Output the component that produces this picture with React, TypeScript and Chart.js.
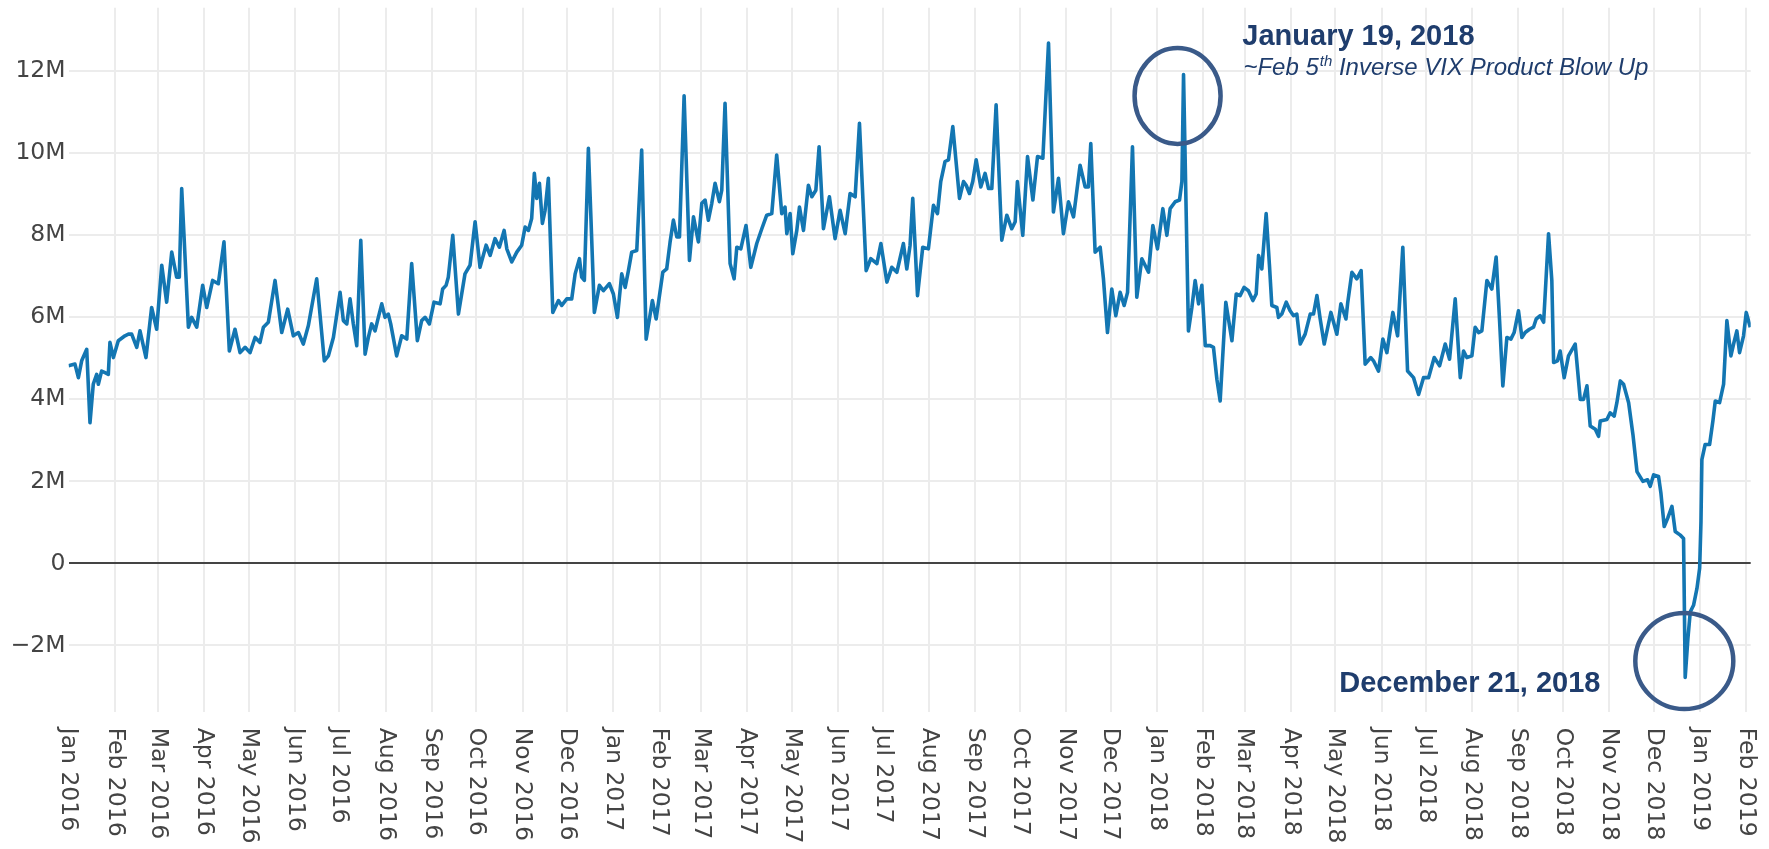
import React, { useEffect, useRef } from 'react';
import { Chart, registerables } from 'chart.js';

Chart.register(...registerables);

// Day index counted from Jan 1, 2016
const pointDays: number[] = [
  0, 4.3, 6.6, 8.8, 12.2, 14.4, 16.6, 18.9, 20.0, 22.2, 24.5, 26.7, 27.8, 30.1, 33.4, 37.9, 40.2, 42.4, 45.8, 48.0,
  52.0, 55.8, 59.2, 62.6, 65.9, 69.3, 72.6, 74.4, 76.0, 77.6, 80.5, 82.7, 86.1, 90.1, 92.8, 96.8, 100.6, 104.4, 108.0, 111.8,
  115.2, 118.6, 121.9, 125.3, 128.6, 130.9, 134.2, 138.7, 143.2, 147.2, 151.0, 154.4, 157.7, 161.1, 166.7, 171.8, 174.5, 177.9,
  182.4, 184.6, 186.9, 189.1, 191.3, 193.6, 196.3, 199.2, 201.4, 203.6, 205.9, 208.1, 210.4, 212.6, 214.8, 216.4, 220.4, 223.8,
  227.2, 230.5, 234.3, 237.2, 239.5, 242.4, 245.5, 249.6, 251.3, 253.6, 255.1, 258.1, 261.9, 266.3, 269.7, 273.1, 276.4, 280.5,
  283.2, 286.5, 289.4, 292.6, 294.4, 297.7, 301.1, 304.4, 306.7, 308.9, 311.1, 312.9, 314.5, 316.3, 318.3, 320.1, 322.3, 325.3,
  329.1, 331.3, 334.7, 338.0, 340.3, 343.2, 344.7, 346.5, 349.2, 350.8, 353.2, 356.6, 359.3, 363.3, 366.0, 368.7,
  371.6, 373.9, 376.1, 378.3, 381.7, 385.0, 388.0, 390.2, 392.2, 394.7, 399.2, 401.8, 404.1, 406.3, 408.6, 410.4, 413.5, 417.1,
  419.8, 423.1, 425.4, 427.6, 429.8, 432.1, 434.3, 437.2, 438.8, 441.0, 444.4, 447.1, 448.9, 451.6, 455.1, 458.3, 462.3, 465.7,
  469.0, 472.4, 475.7, 479.1, 481.3, 482.5, 484.7, 486.5, 489.2, 491.0, 493.7, 497.0, 499.3, 502.0, 504.2, 507.1, 511.1, 514.9,
  518.3, 521.7, 525.0, 528.4, 531.3, 535.8, 538.9, 543.0, 545.7, 549.7, 553.0, 556.4,
  560.8, 563.1, 565.3, 567.1, 570.3, 573.8, 577.6, 581.0, 583.7, 585.9, 588.8, 591.1, 594.0, 598.5, 601.2, 603.0, 605.2, 607.4,
  609.7, 612.8, 615.7, 618.0, 620.2, 623.1, 626.9, 630.3, 633.6, 635.9, 637.4, 641.0, 644.2, 647.8, 650.9, 654.5, 658.3, 661.6,
  665.0, 668.3, 671.7, 675.1, 679.5, 682.9, 685.1, 686.7, 689.6, 693.0, 695.2, 697.9, 700.8, 703.5, 706.4, 709.1, 711.4, 714.7,
  717.6, 721.0, 725.5, 728.4, 731.5, 735.1, 737.8, 740.0, 743.4, 746.3, 747.9, 749.0, 752.3,
  754.6, 756.8, 759.1, 761.3, 763.6, 766.9, 769.1, 771.4, 773.6, 777.4, 781.5, 784.4, 787.0, 789.7, 792.6, 795.6, 797.8, 799.4,
  801.6, 804.5, 806.8, 808.3, 811.7, 812.8, 815.0, 818.0, 820.6, 822.9, 825.1, 827.4, 830.7, 834.1, 836.3, 838.6, 840.8, 843.5,
  848.0, 852.0, 854.7, 858.1, 859.2, 862.1, 865.4, 868.3, 871.0, 874.8, 876.6, 880.0, 882.9, 885.6, 889.6, 892.8, 896.3, 899.5,
  903.5, 906.9, 910.2, 913.6, 917.4, 921.0, 924.8, 927.7, 931.5,
  934.9, 937.1, 939.3, 942.7, 944.9, 947.2, 949.4, 952.8, 956.1, 959.0, 961.3, 963.5, 966.2, 968.9, 971.1, 974.0, 976.3, 978.5,
  981.4, 984.1, 985.9, 988.6, 990.9, 994.2, 996.4, 997.6, 1000.2, 1002.0, 1004.7, 1007.6, 1012.1, 1015.5, 1017.7, 1020.0, 1022.2,
  1025.6, 1027.8, 1028.9, 1033.4, 1035.6, 1038.3, 1040.1, 1042.4, 1044.6, 1048.0, 1050.9, 1053.6, 1057.6, 1060.7, 1062.5, 1064.8,
  1068.1, 1069.7, 1071.9, 1074.2, 1077.1, 1079.3, 1082.7, 1084.9, 1086.0, 1087.8, 1089.4, 1091.6, 1093.9, 1095.7, 1096.6, 1097.2,
  1099.4, 1102.4, 1104.6, 1106.2, 1109.1, 1111.8, 1114.0, 1116.7, 1118.5, 1120.7, 1122.5, 1125.2, 1127.0, 1129.7,
];

// Values in millions
const pointValues: number[] = [
  4.82, 4.86, 4.53, 4.94, 5.22, 3.43, 4.37, 4.61, 4.37, 4.69, 4.65, 4.61, 5.39, 5.02, 5.43, 5.55, 5.59, 5.59, 5.27, 5.67,
  5.02, 6.24, 5.71, 7.27, 6.37, 7.59, 6.98, 6.98, 9.14, 7.96, 5.76, 6.0, 5.76, 6.78, 6.24, 6.9, 6.82, 7.84, 5.18, 5.71,
  5.14, 5.27, 5.14, 5.51, 5.39, 5.76, 5.88, 6.9, 5.63, 6.2, 5.55, 5.63, 5.35, 5.8, 6.94, 4.94, 5.06, 5.51,
  6.61, 5.92, 5.84, 6.45, 5.84, 5.31, 7.88, 5.10, 5.51, 5.84, 5.67, 6.0, 6.33, 6.0, 6.08, 5.84, 5.06, 5.55,
  5.47, 7.31, 5.43, 5.92, 6.0, 5.84, 6.37, 6.33, 6.69, 6.78, 6.98, 8.0, 6.08, 7.06, 7.27, 8.33, 7.22, 7.76,
  7.51, 7.92, 7.71, 8.12, 7.67, 7.35, 7.59, 7.76, 8.2, 8.12, 8.41, 9.51, 8.90, 9.27, 8.29, 8.61, 9.39, 6.12,
  6.41, 6.29, 6.45, 6.45, 7.06, 7.43, 6.98, 6.9, 10.12, 8.53, 6.12, 6.78, 6.65, 6.82, 6.57, 6.0,
  7.06, 6.73, 7.14, 7.59, 7.63, 10.08, 5.47, 5.96, 6.41, 5.96, 7.10, 7.18, 7.84, 8.37, 7.96, 7.96, 11.40, 7.39,
  8.45, 7.84, 8.78, 8.86, 8.37, 8.78, 9.27, 8.82, 9.10, 11.22, 7.31, 6.94, 7.71, 7.67, 8.24, 7.22, 7.80, 8.16,
  8.49, 8.53, 9.96, 8.53, 8.69, 8.04, 8.53, 7.55, 8.12, 8.69, 8.12, 9.22, 8.94, 9.10, 10.16, 8.16, 8.94, 7.92,
  8.61, 8.04, 9.02, 8.94, 10.73, 7.14, 7.43, 7.31, 7.80, 6.86, 7.22, 7.10,
  7.80, 7.18, 7.76, 8.90, 6.53, 7.71, 7.67, 8.73, 8.53, 9.31, 9.80, 9.84, 10.65, 8.90, 9.31, 9.22, 9.02, 9.31,
  9.84, 9.18, 9.51, 9.14, 9.14, 11.18, 7.88, 8.49, 8.16, 8.33, 9.31, 8.0, 9.92, 8.86, 9.92, 9.88, 12.69, 8.57,
  9.39, 8.04, 8.82, 8.45, 9.71, 9.18, 9.18, 10.24, 7.59, 7.71, 6.94, 5.63, 6.69, 6.04, 6.61, 6.29, 6.61, 10.16,
  6.49, 7.43, 7.10, 8.24, 7.67, 8.65, 8.0, 8.65, 8.82, 8.86, 9.31, 11.92, 5.67,
  6.24, 6.90, 6.33, 6.78, 5.31, 5.31, 5.27, 4.49, 3.96, 6.37, 5.43, 6.57, 6.53, 6.73, 6.65, 6.41, 6.57, 7.51,
  7.18, 8.53, 7.22, 6.29, 6.24, 6.0, 6.08, 6.37, 6.16, 6.04, 6.08, 5.35, 5.59, 6.08, 6.08, 6.53, 5.96, 5.35,
  6.12, 5.59, 6.33, 5.96, 6.33, 7.10, 6.94, 7.14, 4.86, 5.02, 4.94, 4.69, 5.47, 5.14, 6.12, 5.55, 7.71, 4.69,
  4.53, 4.12, 4.53, 4.53, 5.02, 4.82, 5.35, 4.98, 6.45,
  4.53, 5.18, 5.02, 5.06, 5.76, 5.63, 5.67, 6.90, 6.69, 7.47, 5.92, 4.33, 5.51, 5.47, 5.63, 6.16, 5.51, 5.63,
  5.71, 5.76, 5.96, 6.04, 5.88, 8.04, 6.90, 4.90, 4.94, 5.18, 4.53, 5.06, 5.35, 4.0, 4.0, 4.33, 3.35,
  3.27, 3.10, 3.47, 3.51, 3.67, 3.59, 3.92, 4.45, 4.37, 3.92, 3.14, 2.24, 2.0, 2.04, 1.88, 2.16,
  2.12, 1.71, 0.90, 1.10, 1.39, 0.78, 0.69, 0.61, -2.78, -1.84, -1.18, -1.02, -0.61, -0.12, 1.02, 2.53,
  2.90, 2.90, 3.47, 3.96, 3.92, 4.37, 5.92, 5.06, 5.35, 5.67, 5.14, 5.55, 6.12, 5.76,
];

const monthTickDays: number[] = [
  0, 31, 60, 91, 121, 152, 182, 213, 244, 274, 305, 335,
  366, 397, 425, 456, 486, 517, 547, 578, 609, 639, 670, 700,
  731, 762, 790, 821, 851, 882, 912, 943, 974, 1004, 1035, 1065,
  1096, 1127,
];
const monthTickLabels: string[] = [
  'Jan 2016', 'Feb 2016', 'Mar 2016', 'Apr 2016', 'May 2016', 'Jun 2016', 'Jul 2016', 'Aug 2016', 'Sep 2016', 'Oct 2016', 'Nov 2016', 'Dec 2016',
  'Jan 2017', 'Feb 2017', 'Mar 2017', 'Apr 2017', 'May 2017', 'Jun 2017', 'Jul 2017', 'Aug 2017', 'Sep 2017', 'Oct 2017', 'Nov 2017', 'Dec 2017',
  'Jan 2018', 'Feb 2018', 'Mar 2018', 'Apr 2018', 'May 2018', 'Jun 2018', 'Jul 2018', 'Aug 2018', 'Sep 2018', 'Oct 2018', 'Nov 2018', 'Dec 2018',
  'Jan 2019', 'Feb 2019',
];

const yTickValues: number[] = [-2, 0, 2, 4, 6, 8, 10, 12];
const yTickLabels: string[] = ['\u22122M', '0', '2M', '4M', '6M', '8M', '10M', '12M'];

// Annotation anchors (data units: day, millions)
const noteTop = { day: 788.5, value: 12.63, text: 'January 19, 2018' };
const noteSub = { day: 789.2, value: 11.9, pre: '~Feb 5', sup: 'th', post: ' Inverse VIX Product Blow Up' };
const noteBottom = { day: 853.6, value: -3.135, text: 'December 21, 2018' };
const circleTop = { day: 745, value: 11.4, rx: 43, ry: 48 };
const circleBottom = { day: 1085.4, value: -2.38, rx: 49, ry: 48 };

const TEXT_COLOR = '#1f3d6d';
const CIRCLE_COLOR = '#3a5a89';
const TICK_FONT = '"DejaVu Sans", Verdana, sans-serif';

const xLabelPlugin = {
  id: 'xRotatedLabels',
  afterDraw(chart: any) {
    const { ctx, chartArea } = chart;
    const x = chart.scales.x;
    ctx.save();
    ctx.font = `23.5px ${TICK_FONT}`;
    ctx.fillStyle = '#444444';
    ctx.textAlign = 'left';
    ctx.textBaseline = 'middle';
    monthTickDays.forEach((d, i) => {
      const px = x.getPixelForValue(d);
      ctx.save();
      ctx.translate(px, chartArea.bottom + 16);
      ctx.rotate(Math.PI / 2);
      ctx.fillText(monthTickLabels[i], 0, 0);
      ctx.restore();
    });
    ctx.restore();
  },
};

const annotationPlugin = {
  id: 'notes',
  afterDatasetsDraw(chart: any) {
    const { ctx } = chart;
    const x = chart.scales.x;
    const y = chart.scales.y;
    ctx.save();
    ctx.strokeStyle = CIRCLE_COLOR;
    ctx.lineWidth = 4.5;
    [circleTop, circleBottom].forEach((c) => {
      ctx.beginPath();
      ctx.ellipse(x.getPixelForValue(c.day), y.getPixelForValue(c.value), c.rx, c.ry, 0, 0, Math.PI * 2);
      ctx.stroke();
    });

    ctx.fillStyle = TEXT_COLOR;
    ctx.textAlign = 'left';
    ctx.textBaseline = 'alphabetic';
    ctx.font = 'bold 29px "Liberation Sans", Arial, sans-serif';
    ctx.fillText(noteTop.text, x.getPixelForValue(noteTop.day), y.getPixelForValue(noteTop.value));
    ctx.fillText(noteBottom.text, x.getPixelForValue(noteBottom.day), y.getPixelForValue(noteBottom.value));

    let sx = x.getPixelForValue(noteSub.day);
    const sy = y.getPixelForValue(noteSub.value);
    ctx.font = 'italic 24px "Liberation Sans", Arial, sans-serif';
    ctx.fillText(noteSub.pre, sx, sy);
    sx += ctx.measureText(noteSub.pre).width + 1;
    ctx.font = 'italic 15px "Liberation Sans", Arial, sans-serif';
    ctx.fillText(noteSub.sup, sx, sy - 9);
    sx += ctx.measureText(noteSub.sup).width;
    ctx.font = 'italic 24px "Liberation Sans", Arial, sans-serif';
    ctx.fillText(noteSub.post, sx, sy);
    ctx.restore();
  },
};

export default function App() {
  const canvasRef = useRef<HTMLCanvasElement | null>(null);

  useEffect(() => {
    const canvas = canvasRef.current;
    if (!canvas) return;
    const data = pointDays.map((d, i) => ({ x: d, y: pointValues[i] }));
    const chart = new Chart(canvas, {
      type: 'line',
      data: {
        datasets: [
          {
            data,
            borderColor: '#1376b2',
            borderWidth: 3.6,
            pointRadius: 0,
            pointHoverRadius: 0,
            tension: 0,
            fill: false,
            borderJoinStyle: 'round',
          },
        ],
      },
      options: {
        animation: false,
        responsive: false,
        devicePixelRatio: 1,
        layout: { padding: { top: 7, right: 18.3, left: 0, bottom: 0 } },
        plugins: {
          legend: { display: false },
          tooltip: { enabled: false },
        },
        scales: {
          x: {
            type: 'linear',
            min: 0,
            max: 1130,
            border: { display: false },
            grid: {
              color: (ctx: any) => (ctx.tick && ctx.tick.value === 0 ? 'rgba(0,0,0,0)' : '#ececec'),
              lineWidth: 2,
              drawTicks: false,
            },
            ticks: { display: false },
            afterBuildTicks: (scale: any) => {
              scale.ticks = monthTickDays.map((v) => ({ value: v }));
            },
            afterFit: (scale: any) => {
              scale.height = 137.3;
            },
          },
          y: {
            type: 'linear',
            min: -3.615,
            max: 13.55,
            border: { display: false },
            grid: {
              drawTicks: false,
              color: (ctx: any) => (ctx.tick && ctx.tick.value === 0 ? '#444444' : '#ececec'),
              lineWidth: 2,
            },
            ticks: {
              padding: 3,
              color: '#444444',
              font: { family: TICK_FONT, size: 23.5, lineHeight: 0.4 },
              callback: (value: any) => {
                const idx = yTickValues.indexOf(Number(value));
                return idx >= 0 ? yTickLabels[idx] : '';
              },
            },
            afterBuildTicks: (scale: any) => {
              scale.ticks = yTickValues.map((v) => ({ value: v }));
            },
            afterFit: (scale: any) => {
              scale.width = 68.56;
            },
          },
        },
      },
      plugins: [xLabelPlugin, annotationPlugin],
    });
    return () => {
      chart.destroy();
    };
  }, []);

  return (
    <div style={{ position: 'absolute', left: 0, top: 0, width: 1769, height: 849, background: '#ffffff' }}>
      <canvas ref={canvasRef} width={1769} height={849} style={{ display: 'block' }} />
    </div>
  );
}
